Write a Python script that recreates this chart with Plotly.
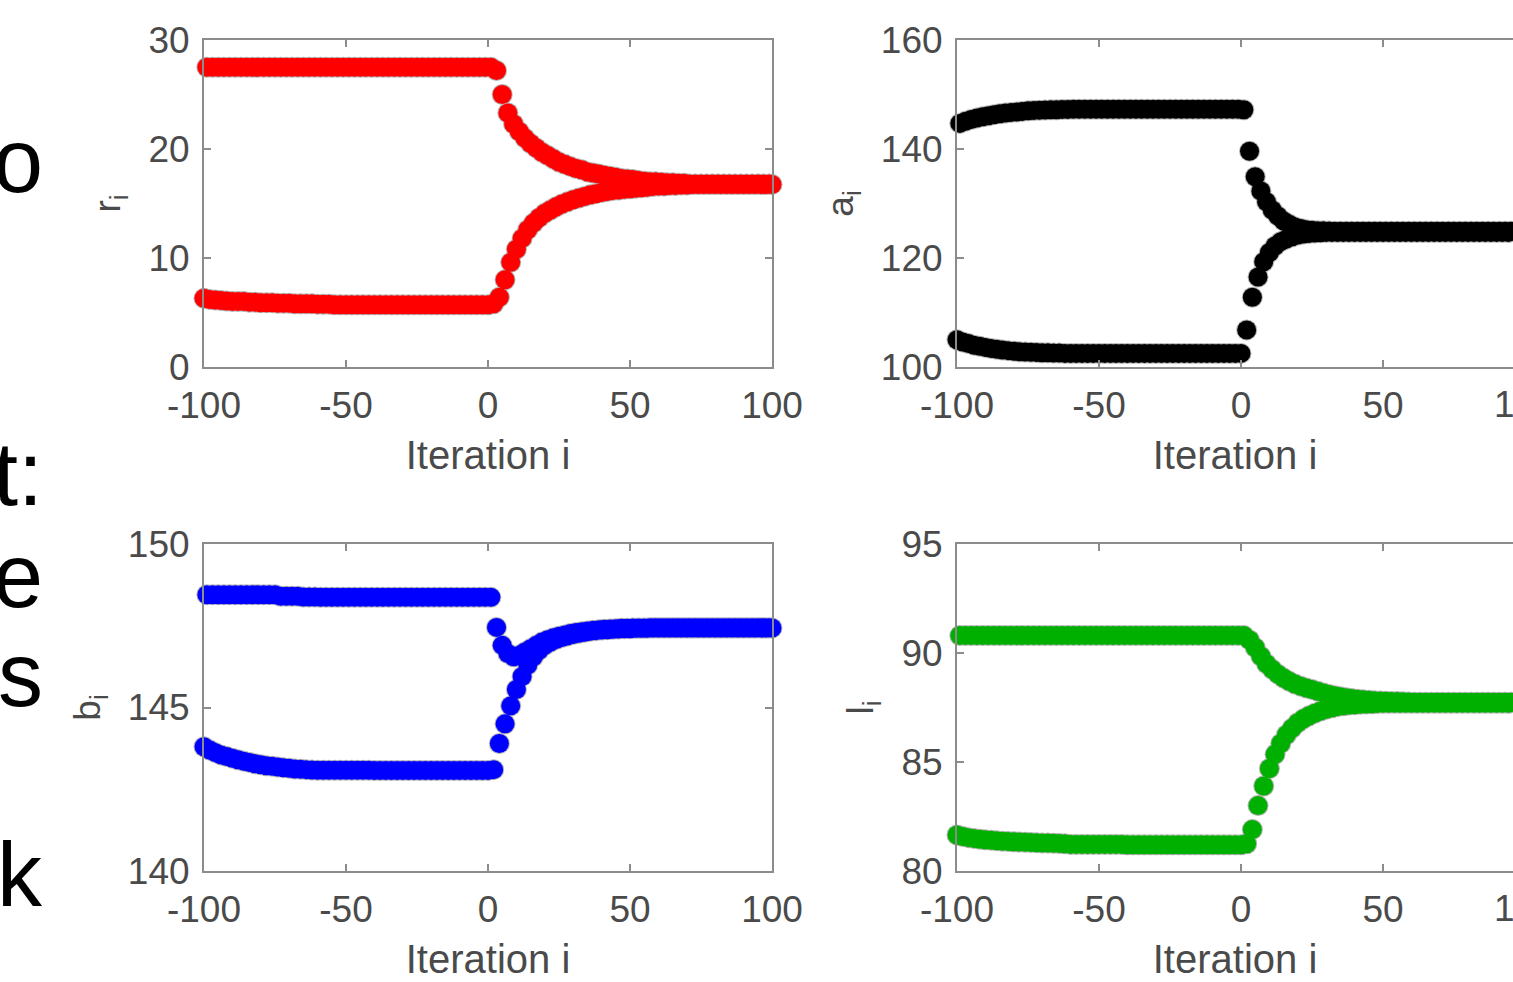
import plotly.graph_objects as go

# ---------------- data ----------------
iter_odd = list(range(-99, 100, 2))    # iterations on the upper orbit branch
iter_even = list(range(-100, 101, 2))  # iterations on the lower orbit branch

r_upper = [
    27.5, 27.5, 27.5, 27.5, 27.5, 27.5, 27.5, 27.5, 27.5, 27.5,
    27.5, 27.5, 27.5, 27.5, 27.5, 27.5, 27.5, 27.5, 27.5, 27.5,
    27.5, 27.5, 27.5, 27.5, 27.5, 27.5, 27.5, 27.5, 27.5, 27.5,
    27.5, 27.5, 27.5, 27.5, 27.5, 27.5, 27.5, 27.5, 27.5, 27.5,
    27.5, 27.5, 27.5, 27.5, 27.5, 27.5, 27.5, 27.5, 27.5, 27.5,
    27.5, 27.2, 25.0, 23.3, 22.3, 21.6, 21.0, 20.5, 20.1, 19.7,
    19.4, 19.1, 18.8, 18.6, 18.4, 18.2, 18.1, 17.9, 17.8, 17.7,
    17.6, 17.5, 17.4, 17.3, 17.25, 17.2, 17.1, 17.05, 17.0, 17.0,
    16.95, 16.9, 16.9, 16.85, 16.85, 16.8, 16.8, 16.8, 16.8, 16.8,
    16.8, 16.8, 16.8, 16.8, 16.8, 16.8, 16.8, 16.8, 16.8, 16.8,
]
r_lower = [
    6.3, 6.2, 6.15, 6.1, 6.05, 6.0, 6.0, 6.0, 5.95, 5.95,
    5.9, 5.9, 5.9, 5.85, 5.85, 5.85, 5.8, 5.8, 5.8, 5.8,
    5.75, 5.75, 5.75, 5.7, 5.7, 5.7, 5.7, 5.7, 5.7, 5.7,
    5.7, 5.7, 5.7, 5.7, 5.7, 5.7, 5.7, 5.7, 5.7, 5.7,
    5.7, 5.7, 5.7, 5.7, 5.7, 5.7, 5.7, 5.7, 5.7, 5.7,
    5.7, 5.8, 6.4, 8.0, 9.6, 10.8, 11.8, 12.6, 13.2, 13.7,
    14.1, 14.4, 14.7, 14.95, 15.15, 15.35, 15.5, 15.65, 15.8, 15.9,
    16.0, 16.1, 16.2, 16.25, 16.3, 16.35, 16.4, 16.45, 16.5, 16.55,
    16.6, 16.6, 16.65, 16.65, 16.7, 16.7, 16.75, 16.75, 16.75, 16.75,
    16.75, 16.75, 16.75, 16.75, 16.75, 16.75, 16.75, 16.75, 16.75, 16.75,
    16.75,
]

a_upper = [
    144.7, 145.1, 145.4, 145.7, 145.9, 146.1, 146.3, 146.45, 146.6, 146.7,
    146.8, 146.9, 147.0, 147.05, 147.1, 147.15, 147.2, 147.2, 147.25, 147.25,
    147.3, 147.3, 147.3, 147.3, 147.3, 147.3, 147.3, 147.3, 147.3, 147.3,
    147.3, 147.3, 147.3, 147.3, 147.3, 147.3, 147.3, 147.3, 147.3, 147.3,
    147.3, 147.3, 147.3, 147.3, 147.3, 147.3, 147.3, 147.3, 147.3, 147.3,
    147.2, 139.6, 134.9, 132.3, 130.3, 128.8, 127.7, 126.8, 126.2, 125.7,
    125.4, 125.2, 125.1, 125.0, 125.0, 124.95, 124.9, 124.9, 124.9, 124.9,
    124.9, 124.9, 124.9, 124.9, 124.9, 124.9, 124.9, 124.9, 124.9, 124.9,
    124.9, 124.9, 124.9, 124.9, 124.9, 124.9, 124.9, 124.9, 124.9, 124.9,
    124.9, 124.9, 124.9, 124.9, 124.9, 124.9, 124.9, 124.9, 124.9, 124.9,
]
a_lower = [
    105.0, 104.6, 104.3, 104.0, 103.8, 103.6, 103.4, 103.25, 103.1, 103.0,
    102.9, 102.8, 102.75, 102.7, 102.65, 102.6, 102.6, 102.55, 102.55, 102.5,
    102.5, 102.5, 102.5, 102.5, 102.5, 102.5, 102.5, 102.5, 102.5, 102.5,
    102.5, 102.5, 102.5, 102.5, 102.5, 102.5, 102.5, 102.5, 102.5, 102.5,
    102.5, 102.5, 102.5, 102.5, 102.5, 102.5, 102.5, 102.5, 102.5, 102.5,
    102.5, 106.8, 112.8, 116.5, 119.3, 121.0, 122.2, 123.0, 123.5, 123.9,
    124.2, 124.4, 124.5, 124.6, 124.65, 124.7, 124.7, 124.7, 124.7, 124.7,
    124.7, 124.7, 124.7, 124.7, 124.7, 124.7, 124.7, 124.7, 124.7, 124.7,
    124.7, 124.7, 124.7, 124.7, 124.7, 124.7, 124.7, 124.7, 124.7, 124.7,
    124.7, 124.7, 124.7, 124.7, 124.7, 124.7, 124.7, 124.7, 124.7, 124.7,
    124.7,
]

b_upper = [
    148.45, 148.45, 148.45, 148.45, 148.45, 148.45, 148.45, 148.45, 148.45, 148.45,
    148.45, 148.45, 148.45, 148.4, 148.4, 148.4, 148.4, 148.38, 148.38, 148.38,
    148.37, 148.37, 148.37, 148.37, 148.37, 148.37, 148.37, 148.37, 148.37, 148.37,
    148.37, 148.37, 148.37, 148.37, 148.37, 148.37, 148.37, 148.37, 148.37, 148.37,
    148.37, 148.37, 148.37, 148.37, 148.37, 148.37, 148.37, 148.37, 148.37, 148.37,
    148.37, 147.45, 146.9, 146.65, 146.55, 146.6, 146.7, 146.8, 146.9, 147.0,
    147.07, 147.13, 147.18, 147.22, 147.26, 147.29, 147.32, 147.34, 147.36, 147.38,
    147.39, 147.4, 147.41, 147.42, 147.42, 147.43, 147.43, 147.43, 147.44, 147.44,
    147.44, 147.44, 147.44, 147.44, 147.44, 147.44, 147.44, 147.44, 147.44, 147.44,
    147.44, 147.44, 147.44, 147.44, 147.44, 147.44, 147.44, 147.44, 147.44, 147.44,
]
b_lower = [
    143.8, 143.7, 143.62, 143.55, 143.5, 143.45, 143.4, 143.36, 143.32, 143.28,
    143.25, 143.22, 143.2, 143.18, 143.16, 143.14, 143.12, 143.11, 143.1, 143.09,
    143.08, 143.08, 143.08, 143.08, 143.08, 143.08, 143.08, 143.08, 143.08, 143.08,
    143.07, 143.07, 143.07, 143.07, 143.07, 143.07, 143.07, 143.07, 143.07, 143.07,
    143.07, 143.07, 143.07, 143.07, 143.07, 143.07, 143.07, 143.07, 143.07, 143.07,
    143.07, 143.1, 143.9, 144.5, 145.05, 145.55, 145.95, 146.3, 146.55, 146.75,
    146.9, 147.0, 147.08, 147.14, 147.19, 147.23, 147.27, 147.3, 147.33, 147.35,
    147.37, 147.38, 147.39, 147.4, 147.41, 147.41, 147.42, 147.42, 147.42, 147.43,
    147.43, 147.43, 147.43, 147.43, 147.43, 147.43, 147.43, 147.43, 147.43, 147.43,
    147.43, 147.43, 147.43, 147.43, 147.43, 147.43, 147.43, 147.43, 147.43, 147.43,
    147.43,
]

l_upper = [
    90.8, 90.8, 90.8, 90.8, 90.8, 90.8, 90.8, 90.8, 90.8, 90.8,
    90.8, 90.8, 90.8, 90.8, 90.8, 90.8, 90.8, 90.8, 90.8, 90.8,
    90.8, 90.8, 90.8, 90.8, 90.8, 90.8, 90.8, 90.8, 90.8, 90.8,
    90.8, 90.8, 90.8, 90.8, 90.8, 90.8, 90.8, 90.8, 90.8, 90.8,
    90.8, 90.8, 90.8, 90.8, 90.8, 90.8, 90.8, 90.8, 90.8, 90.8,
    90.8, 90.6, 90.25, 89.85, 89.5, 89.25, 89.03, 88.85, 88.7, 88.58,
    88.48, 88.4, 88.32, 88.24, 88.17, 88.1, 88.04, 87.99, 87.95, 87.91,
    87.88, 87.85, 87.83, 87.81, 87.8, 87.79, 87.78, 87.77, 87.76, 87.75,
    87.74, 87.74, 87.74, 87.74, 87.74, 87.74, 87.74, 87.74, 87.74, 87.74,
    87.74, 87.74, 87.74, 87.74, 87.74, 87.74, 87.74, 87.74, 87.74, 87.74,
]
l_lower = [
    81.65, 81.58, 81.53, 81.49, 81.46, 81.43, 81.41, 81.39, 81.37, 81.35,
    81.34, 81.33, 81.32, 81.31, 81.3, 81.29, 81.28, 81.27, 81.26, 81.25,
    81.22, 81.22, 81.22, 81.22, 81.22, 81.22, 81.22, 81.22, 81.22, 81.22,
    81.2, 81.2, 81.2, 81.2, 81.2, 81.2, 81.2, 81.2, 81.2, 81.2,
    81.2, 81.2, 81.2, 81.2, 81.2, 81.2, 81.2, 81.2, 81.2, 81.2,
    81.2, 81.25, 81.9, 83.0, 83.9, 84.7, 85.35, 85.85, 86.25, 86.55,
    86.8, 86.98, 87.12, 87.24, 87.34, 87.42, 87.49, 87.54, 87.58, 87.61,
    87.63, 87.65, 87.66, 87.67, 87.68, 87.69, 87.69, 87.69, 87.69, 87.69,
    87.69, 87.69, 87.69, 87.69, 87.69, 87.69, 87.69, 87.69, 87.69, 87.69,
    87.69, 87.69, 87.69, 87.69, 87.69, 87.69, 87.69, 87.69, 87.69, 87.69,
    87.69,
]

x_ticks = [-100, -50, 0, 50, 100]
x_tick_text = ["-100", "-50", "0", "50", "100"]
r_ticks = [0, 10, 20, 30]
a_ticks = [100, 120, 140, 160]
b_ticks = [140, 145, 150]
l_ticks = [80, 85, 90, 95]

panels = [
    # (upper, lower, colour, y label, y ticks, axis suffix)
    (r_upper, r_lower, "#ff0000", "r<sub>i</sub>", r_ticks, ""),
    (a_upper, a_lower, "#000000", "a<sub>i</sub>", a_ticks, "2"),
    (b_upper, b_lower, "#0000ff", "b<sub>i</sub>", b_ticks, "3"),
    (l_upper, l_lower, "#00b000", "l<sub>i</sub>", l_ticks, "4"),
]

W, H = 1513, 982
FONT = "Arial, Liberation Sans, Helvetica, sans-serif"
TXT = "#4a4a4a"
AX = "#8c8c8c"
MS = 19

fig = go.Figure()
for up, lo, col, lab, yt, s in panels:
    # light halo first, so only the outer edge of each band is outlined
    for xs, ys in ((iter_even, lo), (iter_odd, up)):
        fig.add_trace(go.Scatter(
            x=xs, y=ys, mode="markers", xaxis="x" + s, yaxis="y" + s,
            cliponaxis=False, showlegend=False, hoverinfo="skip",
            marker=dict(symbol="circle", size=MS + 2, color="#b4b4b4", line=dict(width=0)),
        ))
    for xs, ys in ((iter_even, lo), (iter_odd, up)):
        fig.add_trace(go.Scatter(
            x=xs, y=ys, mode="markers", xaxis="x" + s, yaxis="y" + s,
            cliponaxis=False, showlegend=False,
            marker=dict(symbol="circle", size=MS, color=col, line=dict(width=0)),
        ))

# panel pixel boxes (left, right, top, bottom)
left_col = (204, 772)
right_col = (957, 1513)
top_row = (40, 367)
bot_row = (544, 871)

def xdom(c):
    return [c[0] / W, c[1] / W]

def ydom(r):
    return [1 - r[1] / H, 1 - r[0] / H]

boxes = {"": (left_col, top_row), "2": (right_col, top_row),
         "3": (left_col, bot_row), "4": (right_col, bot_row)}
span_r = -100 + 200 * (right_col[1] - right_col[0]) / (left_col[1] - left_col[0])
x_ranges = {"": [-100, 100], "3": [-100, 100], "2": [-100, span_r], "4": [-100, span_r]}
y_ranges = {"": [0, 30], "2": [100, 160], "3": [140, 150], "4": [80, 95]}

common = dict(showline=True, linecolor=AX, linewidth=2, ticks="inside",
              ticklen=7, tickwidth=1.5, tickcolor=AX, showgrid=False,
              zeroline=False, tickfont=dict(family=FONT, size=37, color=TXT))

layout = dict(width=W, height=H, margin=dict(l=0, r=0, t=0, b=0, autoexpand=False),
              paper_bgcolor="white", plot_bgcolor="white",
              font=dict(family=FONT, color=TXT))
for up, lo, col, lab, yt, s in panels:
    c, r = boxes[s]
    layout["xaxis" + s] = dict(
        common, domain=xdom(c), range=x_ranges[s], anchor="y" + s,
        tickvals=x_ticks, ticktext=x_tick_text, mirror="ticks", ticklabelstandoff=5,
        title=dict(text="Iteration i", font=dict(family=FONT, size=40, color=TXT), standoff=16),
    )
    layout["yaxis" + s] = dict(
        common, domain=ydom(r), range=y_ranges[s], anchor="x" + s,
        tickvals=yt, mirror="ticks" if s in ("", "3") else False,
        ticklabelstandoff=5,
        title=dict(text=lab, font=dict(family=FONT, size=37, color=TXT), standoff=16),
    )
fig.update_layout(**layout)

# tick labels of the right-hand panels that fall just outside the picture
for r in (top_row, bot_row):
    fig.add_annotation(text="100", xref="paper", yref="paper",
                       x=1525 / W, y=1 - (r[1] + 37) / H, xanchor="center", yanchor="middle",
                       showarrow=False, font=dict(family=FONT, size=37, color=TXT))

# fragments of the neighbouring page text, cut by the left edge
fragments = [("o", 191), ("t:", 504), ("e", 606), ("s", 705), ("k", 905)]
for t, base in fragments:
    fig.add_annotation(text=t, xref="paper", yref="paper", x=45 / W,
                       y=1 - (base - 30) / H, xanchor="right", yanchor="middle",
                       showarrow=False, font=dict(family=FONT, size=90, color="#000000"))

fig.write_html(
    "out.html",
    config={"displayModeBar": False},
    post_script="document.body.style.margin='0';document.body.style.overflow='hidden';",
)
